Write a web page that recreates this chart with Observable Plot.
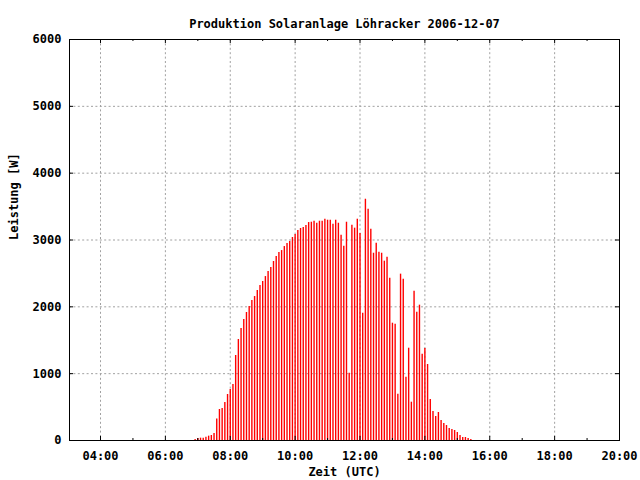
<!DOCTYPE html>
<html><head><meta charset="utf-8">
<script src="https://cdn.jsdelivr.net/npm/d3@7"></script>
<script src="https://cdn.jsdelivr.net/npm/@observablehq/plot@0.6"></script>
<style>body{margin:0;background:#fff}</style>
</head><body><div id="chart"></div>
<script>
const title = "Produktion Solaranlage Löhracker 2006-12-07";
const xLabel = "Zeit (UTC)";
const yLabel = "Leistung [W]";

const times = [
  "06:55",
  "07:00","07:05","07:10","07:15","07:20","07:25","07:30","07:35","07:40","07:45","07:50","07:55",
  "08:00","08:05","08:10","08:15","08:20","08:25","08:30","08:35","08:40","08:45","08:50","08:55",
  "09:00","09:05","09:10","09:15","09:20","09:25","09:30","09:35","09:40","09:45","09:50","09:55",
  "10:00","10:05","10:10","10:15","10:20","10:25","10:30","10:35","10:40","10:45","10:50","10:55",
  "11:00","11:05","11:10","11:15","11:20","11:25","11:30","11:35","11:40","11:45","11:50","11:55",
  "12:00","12:05","12:10","12:15","12:20","12:25","12:30","12:35","12:40","12:45","12:50","12:55",
  "13:00","13:05","13:10","13:15","13:20","13:25","13:30","13:35","13:40","13:45","13:50","13:55",
  "14:00","14:05","14:10","14:15","14:20","14:25","14:30","14:35","14:40","14:45","14:50","14:55",
  "15:00","15:05","15:10","15:15","15:20","15:25"
];
const power = [
  15,
  30,35,35,50,65,75,105,320,464,479,569,688,
  763,838,1272,1511,1676,1810,1915,2005,2094,2154,2244,2319,
  2379,2453,2528,2588,2678,2752,2812,2842,2902,2947,2977,3037,
  3082,3142,3172,3187,3216,3261,3266,3281,3251,3281,3281,3311,
  3296,3296,3236,3296,3251,3072,2907,3266,1007,3221,3177,3311,
  3097,1904,3610,3461,3162,2802,2952,2817,2802,2683,2743,2429,
  1755,1740,693,2489,2414,947,1381,573,2234,1919,2025,1291,
  1376,1137,613,434,359,419,299,254,224,180,165,150,
  120,75,45,45,30,15
];
const xTicks = [4, 6, 8, 10, 12, 14, 16, 18, 20];
const xMinorTicks = [5, 7, 9, 11, 13, 15, 17, 19];
const yTicks = [0, 1000, 2000, 3000, 4000, 5000, 6000];
const xDomain = [3.044, 20];
const yDomain = [0, 6000];

const toHours = s => { const [h, m] = s.split(":").map(Number); return h + m / 60; };
const data = times.map((t, i) => ({t: toHours(t), w: power[i]}));
const fmtHour = h => String(h).padStart(2, "0") + ":00";

const mL = 69, mR = 21, mT = 39, mB = 40;
const frameW = 640 - mL - mR;
const frameH = 480 - mT - mB;
const gridStyle = {stroke: "#a0a0a0", strokeWidth: 1, strokeDasharray: "2,2.4"};

const chart = Plot.plot({
  width: 640, height: 480,
  marginLeft: mL, marginRight: mR, marginTop: mT, marginBottom: mB,
  style: {fontFamily: "'DejaVu Sans Mono', monospace", fontSize: "12px", fontWeight: "bold", background: "#fff", color: "#000"},
  x: {domain: xDomain, label: null},
  y: {domain: yDomain, label: null},
  marks: [
    Plot.ruleX(xTicks.slice(0, -1), {x: d => d, ...gridStyle}),
    Plot.ruleY(yTicks.slice(1, -1), {y: d => d, ...gridStyle}),
    Plot.ruleX(data, {x: "t", y1: 0, y2: "w", stroke: "#ff0000", strokeWidth: 1.4}),
    Plot.ruleX(xTicks, {x: d => d, insetTop: frameH - 4, stroke: "#000"}),
    Plot.ruleX(xTicks, {x: d => d, insetBottom: frameH - 4, stroke: "#000"}),
    Plot.ruleX(xMinorTicks, {x: d => d, insetTop: frameH - 2, stroke: "#000"}),
    Plot.ruleX(xMinorTicks, {x: d => d, insetBottom: frameH - 2, stroke: "#000"}),
    Plot.ruleY(yTicks, {y: d => d, insetRight: frameW - 4, stroke: "#000"}),
    Plot.ruleY(yTicks, {y: d => d, insetLeft: frameW - 4, stroke: "#000"}),
    Plot.frame({stroke: "#000"}),
    Plot.axisX(xTicks, {tickSize: 0, tickPadding: 11, tickFormat: fmtHour, label: null}),
    Plot.axisY(yTicks, {tickSize: 0, tickPadding: 8, tickFormat: d => String(d), label: null}),
    Plot.text([title], {text: d => d, frameAnchor: "top", dy: -20}),
    Plot.text([xLabel], {text: d => d, frameAnchor: "bottom", dy: 35}),
    Plot.text([yLabel], {text: d => d, frameAnchor: "left", dx: -55, rotate: -90})
  ]
});
document.getElementById("chart").appendChild(chart);
</script>
</body></html>
